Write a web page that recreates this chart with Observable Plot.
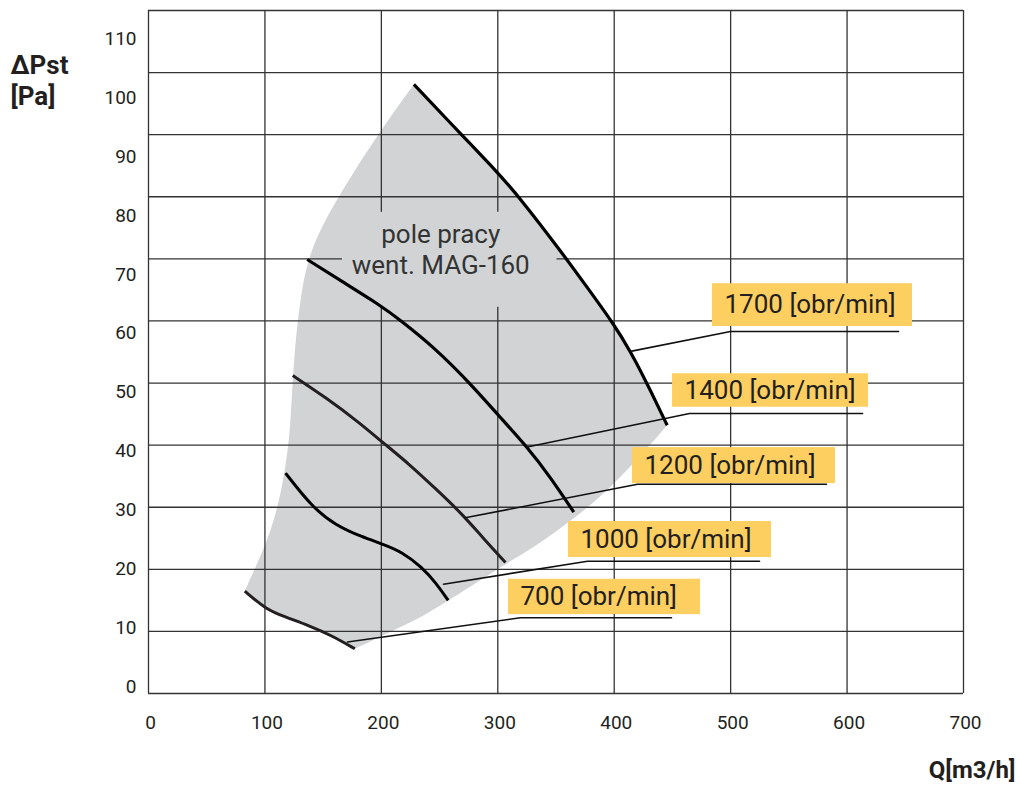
<!DOCTYPE html>
<html><head><meta charset="utf-8">
<script src="https://cdn.jsdelivr.net/npm/d3@7"></script>
<script src="https://cdn.jsdelivr.net/npm/@observablehq/plot@0.6"></script>
<style>
body{margin:0;background:#fff;}
#chart{width:1020px;height:796px;}
svg text{font-family:Roboto,"Noto Sans",sans-serif;}
</style>
</head><body><div id="chart"></div>
<script>
// ---- data ----
const xTicks = [0, 100, 200, 300, 400, 500, 600, 700];
const yTicks = [0, 10, 20, 30, 40, 50, 60, 70, 80, 90, 100, 110];

// fan curves (Q [m3/h], dPst [Pa])
const curve1700 = [[227.9, 98.1], [270.8, 89.6], [299.5, 84.0], [319.5, 79.7], [353.9, 71.3], [376.8, 65.4], [399.6, 59.5], [414.0, 55.1], [428.3, 49.9], [445.5, 43.2]];
const curve1400 = [[136.3, 69.9], [164.9, 66.5], [199.3, 62.5], [216.4, 60.1], [245.0, 55.8], [276.5, 49.9], [299.5, 45.0], [325.3, 39.7], [345.3, 34.8], [365.3, 29.2]];
const curve1200 = [[123.9, 51.2], [152.0, 47.7], [180.6, 43.7], [200.7, 40.5], [223.6, 37.0], [246.5, 33.0], [269.4, 28.9], [286.6, 25.2], [306.6, 21.1]];
const curve1000 = [[117.7, 35.5], [140.6, 30.0], [160.6, 27.1], [183.5, 25.2], [200.7, 24.1], [217.9, 22.8], [235.1, 20.3], [246.5, 17.9], [257.4, 15.0]];
const curve700  = [[82.7, 16.5], [100.5, 13.6], [117.7, 12.3], [137.7, 10.95], [157.8, 9.3], [177.2, 7.2]];

// working field of the fan: lower-right edge and left edge (the upper-right edge is the 1700 curve)
// corner points are repeated so that the smooth outline keeps its corners
const fieldLowerEdge = [[445.5, 43.2], [445.5, 43.2], [416.6, 37.0], [388.2, 31.6], [359.9, 27.4], [330.7, 23.5], [306.6, 20.9], [257.9, 15.0], [232.2, 12.0], [203.6, 9.6], [177.2, 7.2], [177.2, 7.2], [177.2, 7.2]];
const fieldLeftEdge = [[157.8, 9.3], [137.7, 10.95], [117.7, 12.3], [100.5, 13.6], [82.7, 16.5], [82.7, 16.5], [82.7, 16.5], [91.9, 20.3], [103.3, 25.2], [112.5, 31.0], [118.5, 37.5], [122.0, 43.0], [124.5, 53.6], [130.6, 64.4], [139.1, 71.8], [162.3, 79.9], [199.3, 90.7], [227.9, 98.1]];

// label texts
const rpmLabels = ["1700 [obr/min]", "1400 [obr/min]", "1200 [obr/min]", "1000 [obr/min]", "700 [obr/min]"];
// label boxes (data units)
const boxQ1 = [484.4, 450.1, 415.7, 360.7, 309.2];
const boxQ2 = [656.2, 618.4, 590.1, 535.1, 474.1];
const boxP1 = [59.1, 46.1, 33.8, 21.9, 12.7];
const boxP2 = [66.0, 51.5, 39.6, 27.7, 18.4];
// leader lines: point on curve -> elbow -> end of underline
const leader1700 = [[414.0, 55.1], [499.9, 58.3], [644.2, 58.3]];
const leader1400 = [[325.3, 39.7], [464.7, 45.1], [613.3, 45.1]];
const leader1200 = [[272.0, 28.3], [420.0, 33.7], [582.3, 33.7]];
const leader1000 = [[253.4, 17.6], [377.0, 21.3], [524.8, 21.3]];
const leader700  = [[170.9, 8.3], [319.5, 12.2], [449.2, 12.2]];

// area note and the gap it leaves in the grid
const noteLines = ["pole pracy", "went. MAG-160"];
const noteQ = 251;
const noteP = [73.9, 68.9];
const noteGapQ = [166.6, 350.9];
const noteGapP = [62.2, 77.5];

// ---- build tables ----
const field = [...curve1700, ...fieldLowerEdge, ...fieldLeftEdge];
const boxes = rpmLabels.map((t, i) => ({t, x1: boxQ1[i], x2: boxQ2[i], y1: boxP1[i], y2: boxP2[i]}));
const leaders = [leader1700, leader1400, leader1200, leader1000, leader700]
  .flatMap((pts, i) => pts.map(([x, y]) => ({x, y, k: i})));
const notes = noteLines.map((t, i) => ({t, x: noteQ, y: noteP[i]}));

// grid lines, interrupted behind the note
const [yMin, yMax] = [yTicks[0], yTicks[yTicks.length - 1]];
const [xMin, xMax] = [xTicks[0], xTicks[xTicks.length - 1]];
const vGrid = xTicks.flatMap(x =>
  (x > noteGapQ[0] && x < noteGapQ[1])
    ? [{x, y1: yMin, y2: noteGapP[0]}, {x, y1: noteGapP[1], y2: yMax}]
    : [{x, y1: yMin, y2: yMax}]);
const hGrid = yTicks.flatMap(y =>
  (y > noteGapP[0] && y < noteGapP[1])
    ? [{y, x1: xMin, x2: noteGapQ[0]}, {y, x1: noteGapQ[1], x2: xMax}]
    : [{y, x1: xMin, x2: xMax}]);

const GRID = "#333";
const INK = "#231f20";
const lineOpts = (stroke, w) => ({x: d => d[0], y: d => d[1], stroke, strokeWidth: w, curve: "basis", strokeLinecap: "butt"});

const chart = Plot.plot({
  width: 1020,
  height: 796,
  marginLeft: 148,
  marginRight: 57,
  marginTop: 10,
  marginBottom: 103,
  x: {domain: [0, 700], axis: null},
  y: {domain: [0, 110], axis: null},
  style: {background: "#fff", fontFamily: "Roboto, 'Noto Sans', sans-serif"},
  marks: [
    Plot.line(field, {x: d => d[0], y: d => d[1], fill: "#d1d3d4", stroke: "none", curve: "basis"}),
    Plot.ruleX(vGrid, {x: "x", y1: "y1", y2: "y2", stroke: GRID, strokeWidth: 1.3}),
    Plot.ruleY(hGrid, {y: "y", x1: "x1", x2: "x2", stroke: GRID, strokeWidth: 1.3}),
    Plot.text(notes, {x: "x", y: "y", text: "t", fontSize: 26, fill: "#333", textAnchor: "middle"}),
    Plot.line(curve1700, lineOpts("#000", 3.2)),
    Plot.line(curve1400, lineOpts("#000", 3.2)),
    Plot.line(curve1200, lineOpts(INK, 3)),
    Plot.line(curve1000, lineOpts("#000", 3)),
    Plot.line(curve700, lineOpts(INK, 3)),
    Plot.rect(boxes, {x1: "x1", x2: "x2", y1: "y1", y2: "y2", fill: "#fdcf60"}),
    Plot.line(leaders, {x: "x", y: "y", z: "k", stroke: "#111", strokeWidth: 1.6}),
    Plot.text(boxes, {x: "x1", y: d => (d.y1 + d.y2) / 2, text: "t", dx: 12, textAnchor: "start", fontSize: 26, fill: INK}),
    // tick labels
    Plot.text(xTicks, {x: d => d, frameAnchor: "bottom", dx: 2, dy: 35, text: d => String(d), fontSize: 19, fill: INK, textAnchor: "middle"}),
    Plot.text(yTicks, {y: d => 1.127 + 0.948 * d, frameAnchor: "left", dx: -12, text: d => String(d), fontSize: 19, fill: INK, textAnchor: "end"}),
    // axis titles
    Plot.text(["Q[m3/h]"], {frameAnchor: "bottom-right", dx: 52, dy: 84, text: d => d, fontSize: 24, fontWeight: "bold", fill: INK, textAnchor: "end"}),
    Plot.text(["ΔPst"], {frameAnchor: "top-left", dx: -138, dy: 45, text: d => d, fontSize: 26, fontWeight: "bold", fill: INK, textAnchor: "start"}),
    Plot.text(["[Pa]"], {frameAnchor: "top-left", dx: -138, dy: 76, text: d => d, fontSize: 26, fontWeight: "bold", fill: INK, textAnchor: "start"})
  ]
});
document.getElementById("chart").append(chart);
</script>
</body></html>
